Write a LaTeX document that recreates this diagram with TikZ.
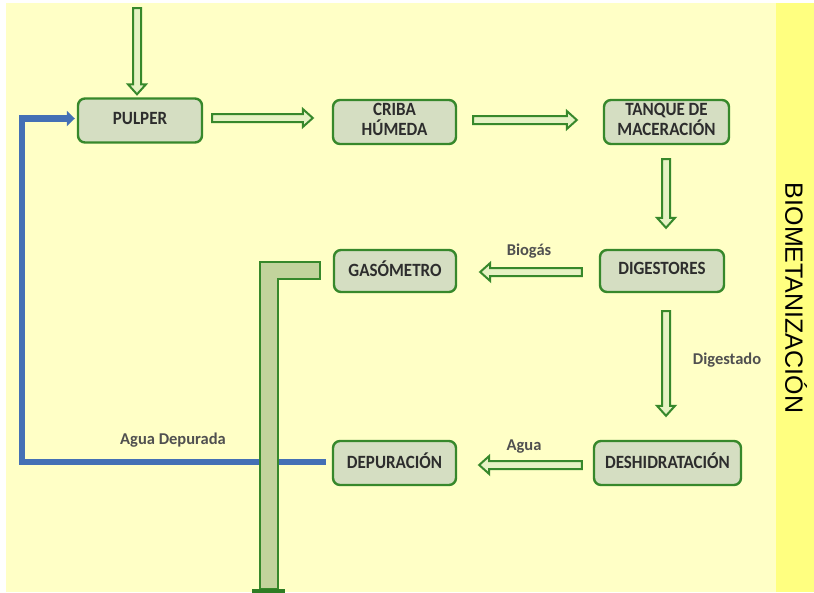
\documentclass[tikz,border=0pt]{standalone}
\usepackage{fontspec}
\setmainfont{Carlito}
\newfontfamily\arialf{Liberation Sans}
\usetikzlibrary{calc,arrows.meta}
\definecolor{bg}{HTML}{FFFFC6}
\definecolor{strip}{HTML}{FFFF80}
\definecolor{bxfill}{HTML}{D5DEC2}
\definecolor{gline}{HTML}{37882B}
\definecolor{afill}{HTML}{E6F2C3}
\definecolor{pfill}{HTML}{C2D39C}
\definecolor{pcap}{HTML}{2E7D24}
\definecolor{bline}{HTML}{4470B5}
\definecolor{txt}{HTML}{2D2D2D}
\definecolor{ltxt}{HTML}{505050}
\newcommand\bxt[1]{\scalebox{1}[1.1]{\begin{tabular}{@{}c@{}}#1\end{tabular}}}
\newcommand\harrow[2]{%
  \coordinate (hA) at ($(#2)!10pt!(#1)$);
  \path[harrowsty] ($(#1)!4pt!90:(#2)$) -- ($(hA)!4pt!90:(#2)$) -- ($(hA)!9pt!90:(#2)$) -- (#2)
    -- ($(hA)!9pt!-90:(#2)$) -- ($(hA)!4pt!-90:(#2)$) -- ($(#1)!4pt!-90:(#2)$) -- cycle;
}
\tikzset{
  box/.style={draw=gline, line width=2.4pt, fill=bxfill, rounded corners=7pt, text=txt,
    font=\fontsize{17}{15.5}\bfseries\selectfont, align=center, inner sep=0pt},
  lbl/.style={text=ltxt, font=\fontsize{16.5}{17}\bfseries\selectfont, inner sep=0pt},
  harrowsty/.style={draw=gline, line width=2pt, fill=afill, line join=miter},
  bluepipe/.style={draw=bline, line width=6.5pt},
  gaspipe/.style={draw=gline, line width=1.9pt, fill=pfill},
}
\begin{document}
\begin{tikzpicture}[x=1pt,y=-1pt]
\useasboundingbox (0,0) rectangle (814,592);
\fill[white] (0,0) rectangle (814,592);
\fill[bg] (6,3) rectangle (776,592);
\fill[strip] (776,3) rectangle (814,592);

% boxes
\node[box, minimum width=124pt, minimum height=44pt] (pulper) at (140,120.5) {\bxt{PULPER}};
\node[box, minimum width=123pt, minimum height=44pt] (criba) at (394.5,122) {\bxt{CRIBA\\HÚMEDA}};
\node[box, minimum width=125pt, minimum height=44pt] (tanque) at (666.5,122) {\bxt{TANQUE DE\\MACERACIÓN}};
\node[box, minimum width=122pt, minimum height=42pt] (gaso) at (395,271) {\bxt{GASÓMETRO}};
\node[box, minimum width=124pt, minimum height=42pt] (dig) at (662,271) {\bxt{DIGESTORES}};
\node[box, minimum width=123pt, minimum height=44pt] (depu) at (394.5,463) {\bxt{DEPURACIÓN}};
\node[box, minimum width=147pt, minimum height=44pt] (desh) at (667.5,463) {\bxt{DESHIDRATACIÓN}};

% connector end points
\coordinate (inA) at (137,8);
\coordinate (inB) at ($(pulper.north)+(-3,-3)$);
\coordinate (pcA) at ($(pulper.east)+(9,-2.5)$);
\coordinate (pcB) at ($(criba.west)+(-19,-4)$);
\coordinate (ctA) at ($(criba.east)+(16,-2)$);
\coordinate (ctB) at ($(tanque.west)+(-26,-2)$);
\coordinate (tdA) at ($(tanque.south)+(-0.5,14)$);
\coordinate (tdB) at ($(dig.north)+(4,-21)$);
\coordinate (dgA) at ($(dig.west)+(-17,1)$);
\coordinate (dgB) at ($(gaso.east)+(23,1)$);
\coordinate (ddA) at ($(dig.south)+(4,18)$);
\coordinate (ddB) at ($(desh.north)+(-1.5,-24)$);
\coordinate (hdA) at ($(desh.west)+(-11,2)$);
\coordinate (hdB) at ($(depu.east)+(22,2)$);

% hollow arrows
\harrow{inA}{inB}
\harrow{pcA}{pcB}
\harrow{ctA}{ctB}
\harrow{tdA}{tdB}
\harrow{dgA}{dgB}
\harrow{ddA}{ddB}
\harrow{hdA}{hdB}

% blue return line
\coordinate (bS) at ($(depu.west)+(-6,-1)$);
\coordinate (bC) at (22,462);
\coordinate (bE) at ($(pulper.west)+(-2,-2)$);
\draw[bluepipe, -{Triangle[length=8pt,width=15pt]}] (bS) -- (bC) |- (bE);

% gas outlet pipe
\path[gaspipe] ($(gaso.west)+(-13,-9)$) -- (260,262) -- (260,589) -- (278,589) -- (278,279) -- ($(gaso.west)+(-13,8)$) -- cycle;
\fill[pcap] (252,588.5) rectangle (285,593);

% labels
\node[lbl] (lbio) at (529,251) {Biogás};
\node[lbl] (ldig) at (727,360) {Digestado};
\node[lbl] (lagua) at (524,447) {Agua};
\node[lbl] (lad) at (173,440) {Agua Depurada};
\node[rotate=-90, font=\arialf\fontsize{25}{25}\selectfont, inner sep=0pt] (title) at (796,298) {BIOMETANIZACIÓN};
\end{tikzpicture}
\end{document}
